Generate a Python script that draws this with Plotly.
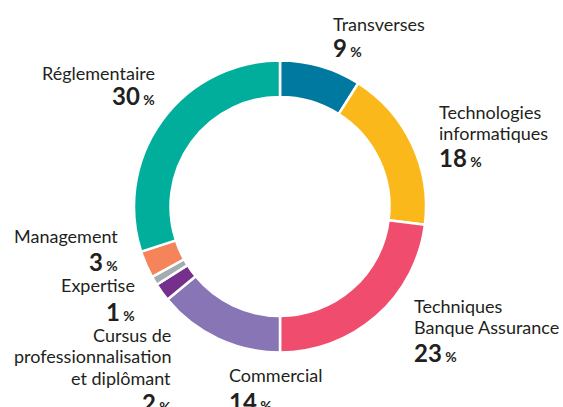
import plotly.graph_objects as go

# Share of training hours by domain
labels = [
    "Transverses",
    "Technologies<br>informatiques",
    "Techniques<br>Banque Assurance",
    "Commercial",
    "Cursus de<br>professionnalisation<br>et diplômant",
    "Expertise",
    "Management",
    "Réglementaire",
]
values = [9, 18, 23, 14, 2, 1, 3, 30]
colors = ["#0079A1", "#FBB81B", "#EF4C6E", "#8875B5", "#74308A", "#A3ACB0", "#F5845A", "#00AE9B"]

W, H = 563, 407

# Label placement in pixels: (x, xanchor, label cap-top y, value cap-top y)
placement = [
    (331, "left", 16, 38),
    (437, "left", 104, 148),
    (412, "left", 298, 343),
    (227, "left", 367, 392),
    (173, "right", 327, 393),
    (137, "right", 277, 302),
    (120, "right", 228, 252),
    (157, "right", 65, 86),
]

LABEL_SIZE = 18
LINE_STEP = 21.7
VALUE_SIZE = 24
PCT_SIZE = 14
TEXT_COLOR = "#231F20"
FONT = "Lato"

fig = go.Figure(
    go.Pie(
        labels=[l.replace("<br>", " ") for l in labels],
        values=values,
        marker=dict(colors=colors, line=dict(color="white", width=2.5)),
        hole=0.75,
        sort=False,
        direction="clockwise",
        rotation=0,
        textinfo="none",
        hoverinfo="skip",
        showlegend=False,
        domain=dict(x=[(280 - 146) / W, (280 + 146) / W], y=[1 - 352.5 / H, 1 - 60.5 / H]),
    )
)

annotations = []
for lab, val, (px, xa, ly, vy) in zip(labels, values, placement):
    # one annotation per text line so the line pitch stays tight
    for i, line in enumerate(lab.split("<br>")):
        top = ly + i * LINE_STEP - 0.3 * LABEL_SIZE
        annotations.append(dict(
            x=px / W, y=1 - top / H, xref="paper", yref="paper",
            xanchor=xa, yanchor="top", align=xa, showarrow=False,
            text=line, font=dict(family=FONT, size=LABEL_SIZE, color=TEXT_COLOR),
        ))
    annotations.append(dict(
        x=px / W, y=1 - (vy - 0.28 * VALUE_SIZE) / H, xref="paper", yref="paper",
        xanchor=xa, yanchor="top", align=xa, showarrow=False,
        text=f"<b>{val}</b><b><span style='font-size:{PCT_SIZE}px'> %</span></b>",
        font=dict(family=FONT, size=VALUE_SIZE, color=TEXT_COLOR),
    ))

fig.update_layout(
    width=W, height=H,
    margin=dict(l=0, r=0, t=0, b=0),
    paper_bgcolor="white", plot_bgcolor="white",
    annotations=annotations,
)

fig.write_html("out.html")
